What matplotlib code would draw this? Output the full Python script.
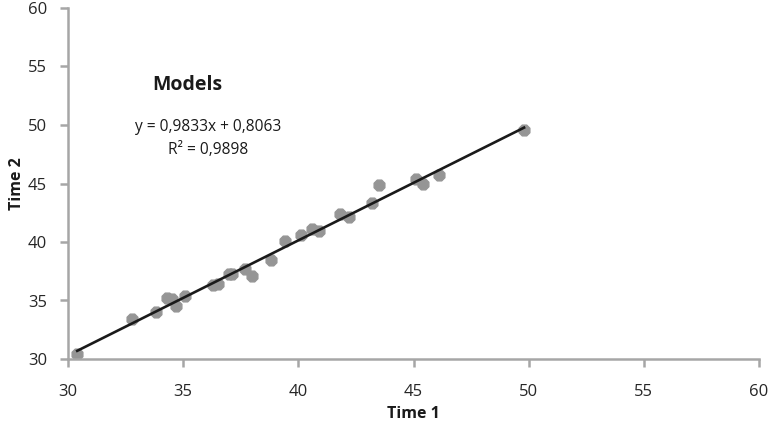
import matplotlib.pyplot as plt
import numpy as np

plt.rcParams['font.family'] = ['Open Sans', 'DejaVu Sans']

# data
time1 = [30.4, 32.8, 33.8, 34.3, 34.5, 34.7, 35.1, 36.3, 36.5, 37.0, 37.1,
         37.7, 38.0, 38.8, 39.4, 40.1, 40.6, 40.9, 41.8, 42.2, 43.2, 43.5,
         45.1, 45.4, 46.1, 49.8]
time2 = [30.4, 33.4, 34.0, 35.2, 35.1, 34.5, 35.4, 36.3, 36.4, 37.3, 37.3,
         37.7, 37.1, 38.5, 40.1, 40.6, 41.1, 40.9, 42.4, 42.1, 43.3, 44.9,
         45.4, 45.0, 45.7, 49.6]

slope = 0.9833
intercept = 0.8063
r_squared = 0.9898

fig = plt.figure(figsize=(7.71, 4.23), dpi=100)
ax = fig.add_axes([68 / 771, 1 - 359 / 423, 691 / 771, 351 / 423])

ax.scatter(time1, time2, s=70, color="#959595", marker="8", zorder=2)

fit_x = np.array([min(time1), max(time1)])
ax.plot(fit_x, slope * fit_x + intercept, color="#1a1a1a", linewidth=1.9, zorder=3)

ax.text(35.2, 53.4, "Models", fontsize=14, fontweight="bold",
        ha="center", va="center", color="#1a1a1a")
ax.text(36.1, 49.85, "y = 0,9833x + 0,8063", fontsize=11.2,
        ha="center", va="center", color="#1a1a1a")
ax.text(36.1, 47.85, f"R² = {r_squared:.4f}".replace(".", ","), fontsize=11.2,
        ha="center", va="center", color="#1a1a1a")

ax.set_xlim(30, 60)
ax.set_ylim(30, 60)
ax.set_xticks(range(30, 61, 5))
ax.set_yticks(range(30, 61, 5))

for side in ["top", "right"]:
    ax.spines[side].set_visible(False)
for side in ["left", "bottom"]:
    ax.spines[side].set_color("#a6a6a6")
    ax.spines[side].set_linewidth(1.8)

ax.tick_params(direction="out", length=6, width=1.8, color="#a6a6a6",
               labelsize=12, labelcolor="#262626")
ax.tick_params(axis="x", pad=12)
ax.tick_params(axis="y", pad=9)

ax.set_xlabel("Time 1", fontsize=11.5, fontweight="bold", color="#1a1a1a", labelpad=4)
ax.set_ylabel("Time 2", fontsize=11.5, fontweight="bold", color="#1a1a1a", labelpad=2)

fig.savefig("out.png", dpi=100)
